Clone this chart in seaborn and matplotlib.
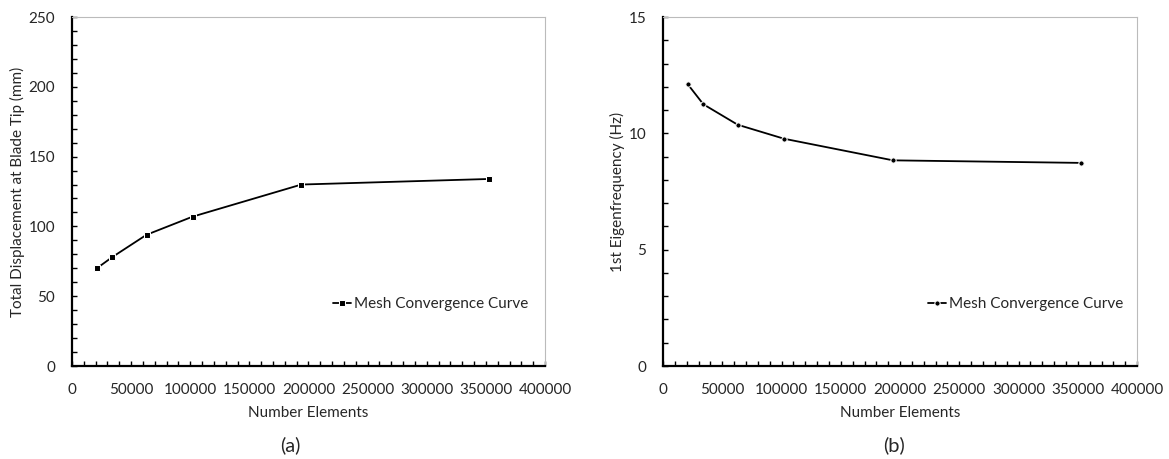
import pandas as pd
import seaborn as sns
import matplotlib.pyplot as plt
from matplotlib.ticker import MultipleLocator

# dados
elementos = [21000, 34000, 63000, 102000, 194000, 353000]
deslocamento = [70, 78, 94, 107, 130, 134]          # mm
frequencia = [12.1, 11.25, 10.37, 9.77, 8.84, 8.73]  # Hz
legenda = 'Mesh Convergence Curve'

df = pd.DataFrame({'Number Elements': elementos,
                   'Deslocamento': deslocamento,
                   'Frequencia': frequencia})

sns.set_style('white')
plt.rcParams['font.family'] = ['Lato', 'DejaVu Sans']

fig = plt.figure(figsize=(11.69, 4.59), dpi=100)
ax1 = fig.add_axes([0.0616, 0.2026, 0.4046, 0.7603])
ax2 = fig.add_axes([0.5672, 0.2026, 0.4055, 0.7603])

cor_texto = '#262626'


def estilo(ax, ymax, ymaj, ymin, ylabel, ylab_x, leg_x):
    ax.set_xlim(0, 400000)
    ax.set_ylim(0, ymax)
    ax.xaxis.set_major_locator(MultipleLocator(50000))
    ax.xaxis.set_minor_locator(MultipleLocator(10000))
    ax.yaxis.set_major_locator(MultipleLocator(ymaj))
    ax.yaxis.set_minor_locator(MultipleLocator(ymin))
    ax.tick_params(which='both', direction='in', length=3.5, width=1, color='black',
                   labelsize=11, labelcolor=cor_texto)
    ax.tick_params(axis='y', which='both', left=True, pad=12)
    ax.tick_params(axis='x', which='both', bottom=True, pad=12)
    for s in ['left', 'bottom']:
        ax.spines[s].set_color('black')
        ax.spines[s].set_linewidth(1.6)
    for s in ['top', 'right']:
        ax.spines[s].set_color('#bbbbbb')
        ax.spines[s].set_linewidth(0.8)
    ax.set_xlabel('Number Elements', fontsize=11, color=cor_texto, labelpad=7)
    ax.set_ylabel(ylabel, fontsize=11, color=cor_texto)
    ax.yaxis.set_label_coords(ylab_x, 0.5)
    leg = ax.legend(loc='center right', bbox_to_anchor=(leg_x, 0.177), frameon=False,
                    fontsize=11, handlelength=1.2, handletextpad=0.15,
                    borderaxespad=0)
    for t in leg.get_texts():
        t.set_color(cor_texto)


sns.lineplot(data=df, x='Number Elements', y='Deslocamento', ax=ax1, color='black',
             marker='s', markersize=4.5, linewidth=1.3, label=legenda)
sns.lineplot(data=df, x='Number Elements', y='Frequencia', ax=ax2, color='black',
             marker='o', markersize=3.8, linewidth=1.3, label=legenda)

estilo(ax1, 250, 50, 10, 'Total Displacement at Blade Tip (mm)', -0.10, 0.977)
estilo(ax2, 15, 5, 1, '1st Eigenfrequency (Hz)', -0.08, 0.983)

fig.text(0.248, 0.0305, '(a)', ha='center', va='center', fontsize=14.5, color=cor_texto)
fig.text(0.765, 0.0305, '(b)', ha='center', va='center', fontsize=14.5, color=cor_texto)

fig.savefig('out.png', dpi=100)
